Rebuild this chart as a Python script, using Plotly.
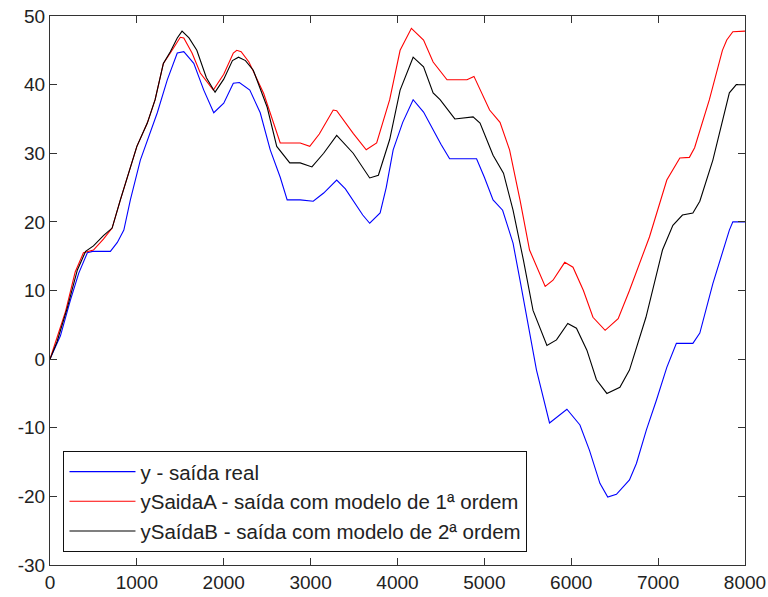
import plotly.graph_objects as go

# y - saída real
y_real_x = [0,120,235,330,430,490,695,775,850,925,1040,1235,1350,1465,1540,1655,1770,1885,2000,2110,2180,2300,2420,2535,2650,2730,2880,3030,3150,3300,3400,3490,3600,3680,3800,3870,3950,4060,4180,4300,4410,4500,4600,4910,5000,5100,5210,5330,5410,5490,5600,5750,5850,5950,6100,6210,6330,6420,6520,6670,6750,6865,6980,7100,7210,7400,7480,7630,7820,7860,8000]
y_real_v = [0,3.4,8.6,12.5,15.5,15.7,15.7,17,18.8,23.2,29,35.9,40.7,44.6,44.8,43.1,39.2,35.9,37.3,40.2,40.3,39.2,35.9,30.5,26.5,23.2,23.2,23,24.2,26.1,24.8,23,21,19.8,21.3,25,30.5,34.5,37.8,36,33.4,31.3,29.2,29.2,26.5,23.2,21.7,16.9,11.5,6.1,-1.6,-9.3,-8.3,-7.3,-9.6,-13.3,-18.1,-20.1,-19.7,-17.6,-15.2,-10.3,-6,-1.2,2.3,2.3,3.8,11,18.8,20,20]

# ySaidaA - 1a ordem
ya_x = [0,40,180,290,385,500,615,715,810,1000,1120,1210,1305,1385,1500,1540,1635,1730,1880,2000,2110,2150,2200,2290,2460,2650,2880,2990,3100,3260,3300,3490,3640,3760,3910,4030,4160,4300,4410,4570,4800,4880,5060,5180,5290,5410,5520,5700,5790,5925,6020,6140,6250,6390,6540,6670,6900,7100,7250,7360,7420,7590,7740,7790,7860,8000]
ya_v = [0,1.5,7,12.7,15.5,15.9,17.5,19.1,23.2,31,34.4,37.8,43.1,44.6,46.9,46.8,44.6,41.7,39.2,41.5,44.6,45,44.8,43.3,38.7,31.5,31.5,31,32.8,36.3,36.2,32.9,30.5,31.5,37.8,45,48.2,46.5,43.3,40.7,40.7,41.2,36.3,34.5,30.5,23.2,15.9,10.6,11.5,14.1,13.4,10,6.1,4.2,5.9,10,17.8,26.1,29.3,29.4,30.8,37.8,45,46.5,47.7,47.8]

# ySaidaB - 2a ordem
yb_x = [0,80,200,315,410,500,615,715,810,1000,1120,1210,1305,1385,1465,1520,1600,1690,1800,1900,2000,2100,2170,2250,2340,2500,2610,2760,2880,3015,3150,3300,3490,3680,3780,3910,4030,4180,4300,4410,4490,4660,4870,4950,5100,5220,5330,5450,5560,5720,5830,5960,6060,6180,6290,6410,6560,6670,6860,7050,7170,7280,7400,7480,7630,7750,7820,7900,8000]
yb_v = [0,2.5,7.5,13,15.7,16.5,18,19.1,23.2,31,34.4,37.8,43.1,44.8,46.8,47.8,46.8,45,41,38.9,40.8,43.5,44,43.5,42.1,36.7,31,28.6,28.6,28,30,32.6,30,26.4,26.8,32,39.2,44,42.6,38.8,37.8,35,35.3,34.4,29.7,27.1,21.7,14.4,7.1,2,2.8,5.2,4.5,1.3,-3,-5,-4.1,-1.6,6.1,15.9,19.5,21,21.3,23,29,35.3,38.8,40,40]

names = ["y - saída real",
         "ySaidaA - saída com modelo de 1ª ordem",
         "ySaídaB - saída com modelo de 2ª ordem"]
colors = ["#0000FF", "#FF0000", "#000000"]

x_ticks = [0, 1000, 2000, 3000, 4000, 5000, 6000, 7000, 8000]
y_ticks = [-30, -20, -10, 0, 10, 20, 30, 40, 50]

assert len(y_real_x) == len(y_real_v)
assert len(ya_x) == len(ya_v)
assert len(yb_x) == len(yb_v)

fig = go.Figure()
for xs, ys, nm, c in [(y_real_x, y_real_v, names[0], colors[0]),
                      (ya_x, ya_v, names[1], colors[1]),
                      (yb_x, yb_v, names[2], colors[2])]:
    fig.add_trace(go.Scatter(x=xs, y=ys, mode="lines", name=nm,
                             line=dict(color=c, width=1.1)))

font = dict(family="Liberation Sans, Arial, sans-serif", size=19, color="#222222")
axis_common = dict(showgrid=False, zeroline=False, showline=True, linecolor="#333333",
                   linewidth=1, mirror="allticks", ticks="inside", ticklen=7,
                   tickcolor="#333333", tickwidth=1, tickfont=font, automargin=False)

fig.update_layout(
    width=768, height=597,
    margin=dict(l=49.5, r=23, t=16, b=32),
    paper_bgcolor="white", plot_bgcolor="white",
    font=font,
    showlegend=True,
    legend=dict(x=0.0194, y=0.024, xanchor="left", yanchor="bottom",
                bgcolor="white", bordercolor="#111111", borderwidth=1,
                font=dict(family="Liberation Sans, Arial, sans-serif", size=20.5, color="#222222"),
                itemwidth=66, tracegroupgap=0),
    xaxis=dict(range=[0, 8000], tickvals=x_ticks, ticktext=[str(v) for v in x_ticks], **axis_common),
    yaxis=dict(range=[-30, 50], tickvals=y_ticks, ticktext=[str(v) for v in y_ticks], **axis_common),
)

fig.write_html("out.html",
               config={"displayModeBar": False},
               post_script="document.body.style.margin='0';document.body.style.overflow='hidden';")
